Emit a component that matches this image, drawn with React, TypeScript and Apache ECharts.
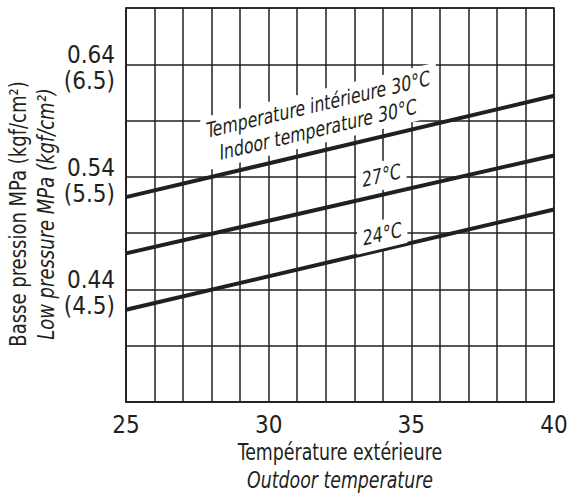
import React, { useEffect, useRef } from "react";
import * as echarts from "echarts";

// ---- data ----
const outdoorTemps = [25, 40]; // °C, x axis
// low pressure in kgf/cm² at the two ends of each line
const indoor30 = [5.32, 6.22];
const indoor27 = [4.82, 5.69];
const indoor24 = [4.32, 5.21];
const seriesNames = ["30°C", "27°C", "24°C"];
const xTickLabels = [25, 30, 35, 40];
const yTickKgf = [4.5, 5.5, 6.5];
const yTickMpa = ["0.44", "0.54", "0.64"];
const curveLabelTexts = [
  "Temperature intérieure 30°C\nIndoor temperature 30°C",
  "27°C",
  "24°C",
];
const xTitle = ["Température extérieure", "Outdoor temperature"];
const yTitle = ["Basse pression MPa (kgf/cm²)", "Low pressure MPa (kgf/cm²)"];

const INK = "#231f20";
const FONT = "'DejaVu Sans Condensed', 'Liberation Sans Narrow', sans-serif";

export default function App() {
  const ref = useRef<HTMLDivElement>(null);

  useEffect(() => {
    if (!ref.current) return;
    const chart = echarts.init(ref.current, undefined, { renderer: "svg" });

    const lines = [indoor30, indoor27, indoor24];
    const series = lines.map((vals, i) => ({
      type: "line",
      name: seriesNames[i],
      data: outdoorTemps.map((t, k) => [t, vals[k]]),
      showSymbol: false,
      symbol: "none",
      lineStyle: { color: INK, width: 4 },
      z: 3,
    }));

    chart.setOption({
      animation: false,
      backgroundColor: "#ffffff",
      textStyle: { fontFamily: FONT },
      grid: {
        left: 126,
        top: 8,
        right: 14,
        bottom: 95,
        containLabel: false,
        outerBoundsMode: "none",
        show: true,
        borderColor: INK,
        borderWidth: 1.5,
        backgroundColor: "transparent",
      },
      xAxis: {
        type: "value",
        min: 25,
        max: 40,
        interval: 1,
        axisLine: { show: true, lineStyle: { color: INK, width: 1.5 } },
        axisTick: { show: false },
        splitLine: { show: true, lineStyle: { color: INK, width: 1.5 } },
        axisLabel: {
          formatter: (v: number) => (xTickLabels.includes(v) ? String(v) : ""),
          fontSize: 24,
          color: INK,
          fontFamily: FONT,
          margin: 11,
          showMinLabel: true,
          showMaxLabel: true,
        },
      },
      yAxis: {
        type: "value",
        min: 3.5,
        max: 7,
        interval: 0.5,
        axisLine: { show: true, lineStyle: { color: INK, width: 1.5 } },
        axisTick: { show: false },
        splitLine: { show: true, lineStyle: { color: INK, width: 1.5 } },
        axisLabel: {
          formatter: (v: number) => {
            const i = yTickKgf.findIndex((k) => Math.abs(k - v) < 1e-6);
            return i >= 0
              ? `{p| }\n{v|${yTickMpa[i]}}\n{v|(${yTickKgf[i].toFixed(1)})}`
              : "";
          },
          color: INK,
          fontFamily: FONT,
          margin: 11,
          rich: {
            p: { fontSize: 4, lineHeight: 8, fontFamily: FONT },
            v: { fontSize: 24, lineHeight: 26, color: INK, fontFamily: FONT },
          },
          showMinLabel: true,
          showMaxLabel: true,
        },
      },
      series,
    });

    const zr = chart.getZr();
    const G: any = echarts.graphic;
    const px = (pt: number[]) =>
      chart.convertToPixel({ gridIndex: 0 }, pt) as number[];

    // Axis titles (condensed look via horizontal scaling)
    const bl = px([25, 3.5]);
    const tr = px([40, 7]);
    const titleRich = {
      a: { fontSize: 23, lineHeight: 28, fill: INK, fontFamily: FONT },
      b: { fontSize: 23, lineHeight: 28, fill: INK, fontFamily: FONT, fontStyle: "italic" },
    };
    zr.add(
      new G.Text({
        x: (bl[0] + tr[0]) / 2,
        y: bl[1] + 64,
        scaleX: 0.84,
        z: 50,
        style: {
          text: `{a|${xTitle[0]}}\n{b|${xTitle[1]}}`,
          rich: titleRich,
          align: "center",
          verticalAlign: "middle",
          fontFamily: FONT,
          fill: INK,
        },
      })
    );
    zr.add(
      new G.Text({
        x: bl[0] - 94,
        y: (bl[1] + tr[1]) / 2 + 9,
        rotation: Math.PI / 2,
        scaleX: 0.87,
        z: 50,
        style: {
          text: `{a|${yTitle[0]}}\n{b|${yTitle[1]}}`,
          rich: {
            a: { ...titleRich.a, lineHeight: 29 },
            b: { ...titleRich.b, lineHeight: 29 },
          },
          align: "center",
          verticalAlign: "middle",
          fontFamily: FONT,
          fill: INK,
        },
      })
    );

    // Curve labels: sheared along the lines, placed in data coordinates
    const labelAnchors = [
      [31.73, 6.03],
      [33.95, 5.51],
      [33.98, 4.99],
    ];
    const p0 = px([outdoorTemps[0], indoor30[0]]);
    const p1 = px([outdoorTemps[1], indoor30[1]]);
    const slope = Math.atan2(p0[1] - p1[1], p1[0] - p0[0]);
    curveLabelTexts.forEach((txt, i) => {
      const p = px(labelAnchors[i]);
      zr.add(
        new G.Text({
          x: p[0],
          y: p[1],
          skewY: slope,
          scaleX: 0.83,
          z: 50,
          style: {
            text: txt,
            fontSize: 21,
            fontFamily: FONT,
            fill: INK,
            align: "center",
            verticalAlign: "middle",
            lineHeight: 25,
            backgroundColor: "#ffffff",
            padding: [2, 7, 2, 7],
          },
        })
      );
    });

    return () => chart.dispose();
  }, []);

  return (
    <div
      ref={ref}
      style={{ position: "absolute", left: 0, top: 0, width: 568, height: 497 }}
    />
  );
}
